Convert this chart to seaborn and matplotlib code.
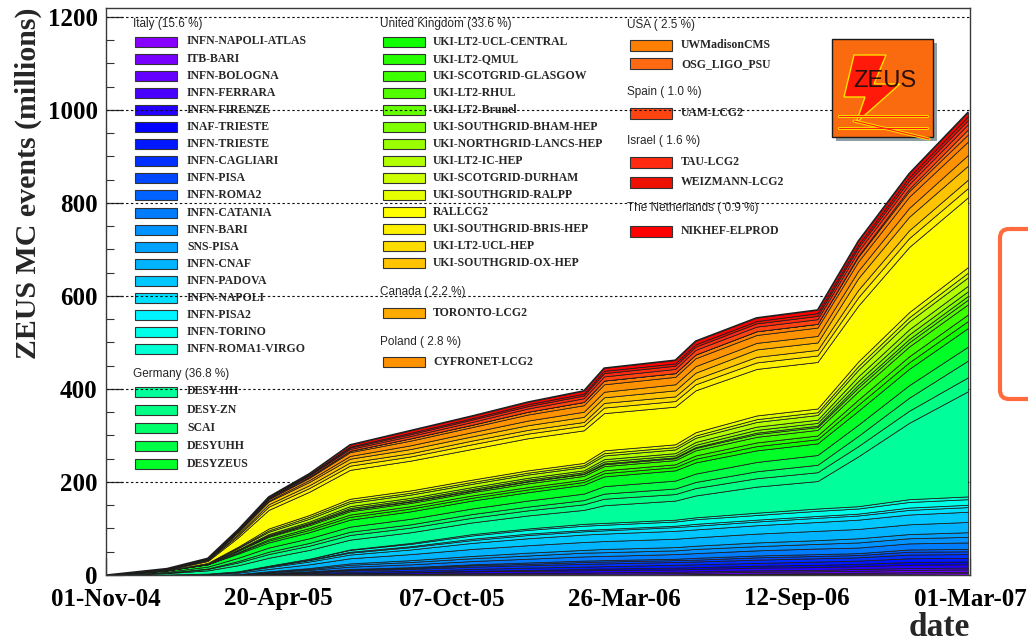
import numpy as np
import matplotlib
matplotlib.use("Agg")
import matplotlib.pyplot as plt
import matplotlib.transforms as mtransforms
from matplotlib.patches import Rectangle, Polygon, FancyBboxPatch
from matplotlib.lines import Line2D
from matplotlib.ticker import MultipleLocator
import seaborn as sns

W, H = 1028, 642

# ---------------------------------------------------------------- data
# sampling dates, in days after 01-Nov-2004
days = [0, 60, 100, 130, 160, 200, 240, 300, 360, 415, 470, 490, 560, 580, 640, 700, 740, 790, 848]

tick_days = [0, 170, 340, 510, 680, 850]
tick_labels = ["01-Nov-04", "20-Apr-05", "07-Oct-05", "26-Mar-06", "12-Sep-06", "01-Mar-07"]
y_ticks = [0, 200, 400, 600, 800, 1000, 1200]

# cumulative ZEUS MC events (millions) per site
italy_sites = ["INFN-NAPOLI-ATLAS", "ITB-BARI", "INFN-BOLOGNA", "INFN-FERRARA", "INFN-FIRENZE",
               "INAF-TRIESTE", "INFN-TRIESTE", "INFN-CAGLIARI", "INFN-PISA", "INFN-ROMA2",
               "INFN-CATANIA", "INFN-BARI", "SNS-PISA", "INFN-CNAF", "INFN-PADOVA",
               "INFN-NAPOLI", "INFN-PISA2", "INFN-TORINO", "INFN-ROMA1-VIRGO"]
italy_values = [
    [0, 0, 0, 0, 0, 0, 0, 0, 0, 0, 0, 0, 0, 1, 2, 2, 3, 3, 4],
    [0, 0, 0, 0, 0, 0, 0, 0, 0, 0, 0, 0, 1, 1, 1, 2, 2, 3, 3],
    [0, 0, 0, 0, 0, 1, 1, 2, 2, 3, 3, 3, 3, 3, 4, 4, 4, 5, 5],
    [0, 0, 0, 0, 0, 0, 1, 1, 2, 2, 2, 3, 3, 3, 3, 3, 4, 4, 4],
    [0, 0, 0, 0, 1, 1, 2, 3, 4, 4, 5, 5, 5, 5, 6, 6, 6, 7, 7],
    [0, 0, 0, 0, 0, 0, 0, 0, 1, 2, 3, 3, 4, 4, 4, 5, 5, 6, 6],
    [0, 0, 0, 0, 1, 2, 3, 3, 4, 5, 5, 5, 6, 6, 6, 7, 7, 8, 8],
    [0, 0, 0, 1, 1, 2, 3, 4, 5, 5, 6, 6, 6, 6, 7, 7, 7, 8, 8],
    [0, 0, 0, 0, 1, 1, 2, 2, 3, 3, 4, 4, 4, 4, 5, 5, 5, 6, 6],
    [0, 0, 0, 0, 0, 1, 1, 2, 2, 3, 3, 3, 3, 4, 4, 4, 4, 5, 5],
    [0, 0, 0, 1, 2, 3, 5, 6, 7, 8, 9, 9, 10, 10, 11, 12, 12, 13, 14],
    [0, 0, 0, 0, 1, 2, 4, 5, 6, 7, 8, 8, 8, 9, 9, 10, 11, 11, 12],
    [0, 0, 0, 0, 1, 2, 3, 4, 5, 6, 6, 7, 7, 7, 8, 8, 9, 9, 10],
    [0, 1, 2, 3, 5, 8, 11, 13, 15, 16, 17, 17, 18, 18, 19, 20, 20, 21, 22],
    [0, 0, 1, 2, 4, 6, 8, 10, 13, 15, 16, 16, 17, 17, 18, 19, 20, 21, 22],
    [0, 0, 0, 1, 2, 3, 4, 5, 6, 7, 7, 7, 8, 8, 8, 9, 9, 10, 10],
    [0, 0, 0, 0, 0, 1, 2, 2, 3, 3, 3, 3, 3, 4, 4, 4, 4, 5, 5],
    [0, 0, 0, 0, 1, 2, 4, 5, 7, 8, 9, 9, 9, 10, 10, 11, 11, 12, 12],
    [0, 0, 0, 0, 0, 0, 1, 2, 3, 3, 4, 4, 4, 4, 5, 5, 5, 6, 6],
]
italy_colors = ["#8800ff", "#7800ff", "#6400ff", "#4800ff", "#2600ff", "#0000ff", "#0018ff",
                "#0030ff", "#0048ff", "#0062ff", "#007cff", "#0092ff", "#00a2ff", "#00b4ff",
                "#00c8ff", "#00e0ff", "#00f4ff", "#00ffe8", "#00ffd2"]

germany_sites = ["DESY-HH", "DESY-ZN", "SCAI", "DESYUHH", "DESYZEUS"]
germany_values = [
    [0, 3, 7, 13, 17, 19, 21, 23, 25, 28, 30, 38, 41, 47, 56, 59, 107, 164, 226],
    [0, 1, 3, 6, 8, 9, 10, 10, 10, 11, 12, 14, 14, 16, 18, 19, 22, 26, 30],
    [0, 0, 1, 3, 5, 6, 7, 7, 8, 8, 9, 11, 12, 13, 15, 16, 22, 28, 36],
    [0, 2, 4, 7, 9, 10, 11, 12, 12, 13, 14, 16, 17, 18, 20, 21, 24, 27, 30],
    [0, 3, 5, 9, 11, 13, 15, 16, 17, 18, 19, 21, 22, 24, 25, 25, 30, 35, 40],
]
germany_colors = ["#00ff9a", "#00ff84", "#00ff68", "#00ff46", "#00ff26"]

uk_sites = ["UKI-LT2-UCL-CENTRAL", "UKI-LT2-QMUL", "UKI-SCOTGRID-GLASGOW", "UKI-LT2-RHUL",
            "UKI-LT2-Brunel", "UKI-SOUTHGRID-BHAM-HEP", "UKI-NORTHGRID-LANCS-HEP",
            "UKI-LT2-IC-HEP", "UKI-SCOTGRID-DURHAM", "UKI-SOUTHGRID-RALPP", "RALLCG2",
            "UKI-SOUTHGRID-BRIS-HEP", "UKI-LT2-UCL-HEP", "UKI-SOUTHGRID-OX-HEP"]
uk_values = [
    [0, 0, 0, 2, 4, 5, 6, 6, 6, 6, 6, 7, 7, 8, 9, 9, 13, 14, 15],
    [0, 0, 0, 1, 3, 4, 5, 5, 5, 5, 5, 6, 6, 7, 8, 8, 11, 13, 14],
    [0, 0, 1, 3, 5, 6, 7, 7, 7, 8, 8, 9, 9, 11, 12, 12, 18, 21, 22],
    [0, 0, 0, 1, 2, 3, 3, 3, 3, 4, 4, 4, 4, 5, 6, 6, 8, 9, 10],
    [0, 0, 0, 0, 0, 0, 1, 1, 1, 1, 1, 2, 2, 2, 3, 3, 6, 7, 8],
    [0, 0, 0, 1, 2, 2, 3, 3, 3, 3, 3, 4, 4, 5, 6, 6, 8, 10, 10],
    [0, 0, 0, 1, 2, 3, 4, 4, 4, 4, 4, 5, 5, 6, 7, 7, 10, 11, 12],
    [0, 0, 1, 3, 5, 6, 7, 7, 7, 7, 7, 8, 8, 9, 10, 10, 14, 17, 18],
    [0, 0, 0, 1, 3, 4, 4, 4, 4, 4, 4, 5, 5, 5, 6, 6, 8, 9, 10],
    [0, 0, 1, 2, 4, 4, 5, 5, 5, 5, 5, 6, 6, 7, 8, 8, 10, 11, 12],
    [0, 1, 4, 20, 40, 50, 62, 64, 66, 69, 70, 80, 81, 90, 100, 100, 120, 140, 150],
    [0, 1, 2, 4, 7, 8, 9, 9, 10, 10, 10, 12, 12, 13, 14, 14, 18, 19, 20],
    [0, 0, 1, 3, 5, 6, 7, 7, 8, 8, 8, 10, 10, 11, 12, 12, 16, 17, 18],
    [0, 1, 1, 4, 6, 7, 8, 9, 9, 10, 11, 12, 13, 14, 16, 16, 25, 29, 30],
]
uk_colors = ["#10ff00", "#28ff00", "#3cff00", "#52ff00", "#66ff00", "#7eff00", "#9aff00",
             "#b2ff00", "#ccff00", "#e6ff00", "#ffff00", "#fff000", "#ffdc00", "#ffc400"]

canada_sites = ["TORONTO-LCG2"]
canada_values = [[0, 0, 0, 1, 2, 4, 6, 8, 9, 10, 11, 12, 13, 14, 14, 14, 16, 19, 23]]
canada_colors = ["#ffaa00"]

poland_sites = ["CYFRONET-LCG2"]
poland_values = [[0, 0, 1, 2, 3, 5, 8, 10, 11, 13, 14, 16, 16, 17, 17, 18, 20, 24, 29]]
poland_colors = ["#ff9200"]

usa_sites = ["UWMadisonCMS", "OSG_LIGO_PSU"]
usa_values = [
    [0, 0, 0, 1, 1, 2, 3, 5, 5, 6, 7, 8, 8, 8, 8, 8, 10, 12, 15],
    [0, 0, 0, 0, 0, 0, 0, 0, 0, 0, 0, 0, 0, 0, 0, 0, 2, 5, 11],
]
usa_colors = ["#ff8000", "#ff6a12"]

spain_sites = ["UAM-LCG2"]
spain_values = [[0, 0, 0, 1, 2, 3, 4, 5, 6, 7, 8, 9, 9, 10, 10, 10, 10, 10, 11]]
spain_colors = ["#ff4412"]

israel_sites = ["TAU-LCG2", "WEIZMANN-LCG2"]
israel_values = [
    [0, 0, 0, 0, 1, 1, 3, 4, 5, 5, 6, 7, 7, 7, 7, 7, 8, 8, 9],
    [0, 0, 0, 0, 0, 1, 2, 3, 3, 4, 4, 5, 5, 5, 5, 6, 6, 7, 8],
]
israel_colors = ["#ff2a10", "#ee1000"]

netherlands_sites = ["NIKHEF-ELPROD"]
netherlands_values = [[0, 1, 1, 1, 1, 2, 4, 5, 5, 5, 6, 6, 7, 7, 7, 7, 8, 8, 9]]
netherlands_colors = ["#ff0000"]

country_names = ["Italy", "Germany", "United Kingdom", "Canada", "Poland",
                 "USA", "Spain", "Israel", "The Netherlands"]
country_shares = ["15.6", "36.8", "33.6", " 2.2", " 2.8", " 2.5", " 1.0", " 1.6", " 0.9"]

groups = [
    (italy_sites, italy_values, italy_colors),
    (germany_sites, germany_values, germany_colors),
    (uk_sites, uk_values, uk_colors),
    (canada_sites, canada_values, canada_colors),
    (poland_sites, poland_values, poland_colors),
    (usa_sites, usa_values, usa_colors),
    (spain_sites, spain_values, spain_colors),
    (israel_sites, israel_values, israel_colors),
    (netherlands_sites, netherlands_values, netherlands_colors),
]

all_values = [np.array(v, dtype=float) for g in groups for v in g[1]]
all_colors = [c for g in groups for c in g[2]]
total = np.sum(all_values, axis=0)

# ---------------------------------------------------------------- style
sns.set_theme(style="ticks")
plt.rcParams["font.family"] = ["Liberation Serif", "DejaVu Serif"]
SANS = ["Liberation Sans", "DejaVu Sans"]
EDGE = "#1c1c1c"

fig = plt.figure(figsize=(W / 100, H / 100), dpi=100)
fig.patch.set_facecolor("white")

AX_L, AX_R, AX_T, AX_B = 106, 970, 8, 575
ax = fig.add_axes([AX_L / W, 1 - AX_B / H, (AX_R - AX_L) / W, (AX_B - AX_T) / H])
ax.set_facecolor("white")

# pixel coordinates with the origin at the top-left corner of the figure
pix = mtransforms.Affine2D().scale(1, -1).translate(0, H)

# stacked cumulative production per site
ax.stackplot(days, *all_values, colors=all_colors, edgecolor=EDGE, linewidth=0.55, zorder=3)
sns.lineplot(x=days, y=total, ax=ax, color=EDGE, linewidth=1.0, zorder=4)

ax.set_xlim(0, 850)
ax.set_ylim(0, 1219)
ax.set_xlabel("")
ax.set_ylabel("")

# dotted horizontal grid drawn over the legend but under the data
for v in y_ticks[1:]:
    ax.axhline(v, color="#111111", linewidth=0.8, linestyle=(0, (2.2, 2.2)), zorder=1.5)

ax.set_xticks(tick_days)
ax.set_xticklabels(tick_labels, fontsize=18, fontweight="bold")
ax.set_yticks(y_ticks)
ax.set_yticklabels([str(v) for v in y_ticks], fontsize=18, fontweight="bold")
ax.yaxis.set_minor_locator(MultipleLocator(50))
ax.tick_params(axis="both", which="major", direction="in", length=12, width=0.9,
               color="#333333", labelcolor="black")
ax.tick_params(axis="x", which="major", pad=9)
ax.tick_params(axis="y", which="major", pad=6)
ax.tick_params(axis="y", which="minor", direction="in", length=6, width=0.8, color="#333333")
ax.tick_params(axis="x", which="minor", bottom=False)
for s in ax.spines.values():
    s.set_color("#3a3a3a")
    s.set_linewidth(1.0)
    s.set_zorder(6)

# axis titles
ax.text(28, 183, "ZEUS MC events (millions)", transform=pix, rotation=90, ha="center",
        va="center", fontsize=21.5, fontweight="bold", clip_on=False)
ax.text(970, 636, "date", transform=pix, ha="right", va="baseline", fontsize=24,
        fontweight="bold", clip_on=False)

# ---------------------------------------------------------------- legend
def header(x, y, text):
    ax.text(x, y, text, transform=pix, fontsize=8.5, family=SANS, ha="left", va="center",
            zorder=1, clip_on=False)


def entry(bx, tx, y, name, color, h=10):
    ax.add_patch(Rectangle((bx, y - h / 2), 42, h, transform=pix, facecolor=color,
                           edgecolor="#333333", linewidth=0.8, zorder=1, clip_on=False))
    ax.text(tx, y, name, transform=pix, fontsize=8.5, fontweight="bold", ha="left",
            va="center", zorder=1, clip_on=False)


def title(i):
    return f"{country_names[i]} ({country_shares[i]} %)"


# column 1: Italy, Germany
header(133, 24, title(0))
for i, (n, c) in enumerate(zip(italy_sites, italy_colors)):
    entry(135, 187, 41.5 + i * 17.1, n, c)
header(133, 374, title(1))
for i, (n, c) in enumerate(zip(germany_sites, germany_colors)):
    entry(135, 187, 391.5 + i * 18.2, n, c)

# column 2: United Kingdom, Canada, Poland
header(380, 24, title(2))
for i, (n, c) in enumerate(zip(uk_sites, uk_colors)):
    entry(383, 433, 42 + i * 17.0, n, c)
header(380, 291.5, title(3))
entry(383, 433, 313, canada_sites[0], canada_colors[0])
header(380, 342.5, title(4))
entry(383, 433, 362, poland_sites[0], poland_colors[0])

# column 3: USA, Spain, Israel, The Netherlands
header(627, 25, title(5))
entry(630, 681, 45.3, usa_sites[0], usa_colors[0], h=11)
entry(630, 681, 63.7, usa_sites[1], usa_colors[1], h=11)
header(627, 91.5, title(6))
entry(630, 681, 113.3, spain_sites[0], spain_colors[0], h=11)
header(627, 141, title(7))
entry(630, 681, 162, israel_sites[0], israel_colors[0], h=11)
entry(630, 681, 182, israel_sites[1], israel_colors[1], h=11)
header(627, 208.3, title(8))
entry(630, 681, 231, netherlands_sites[0], netherlands_colors[0], h=11)

# ---------------------------------------------------------------- ZEUS logo
LX, LY = 832, 39
ax.add_patch(Rectangle((LX + 4, LY + 4), 101, 98, transform=pix, facecolor="#8e9ea4",
                       edgecolor="none", zorder=7, clip_on=False))
ax.add_patch(Rectangle((LX, LY), 101, 98, transform=pix, facecolor="#fa6a0e",
                       edgecolor="#1a1a1a", linewidth=1.0, zorder=7.1, clip_on=False))
bolt = [(22, 16), (54, 16), (42, 45), (68, 45), (24, 84), (33, 58), (12, 58)]
ax.add_patch(Polygon([(LX + x, LY + y) for x, y in bolt], closed=True, transform=pix,
                     facecolor="#ff1a0a", edgecolor="#ffe000", linewidth=1.0, zorder=7.2,
                     clip_on=False))
for (x0, y0, x1, y1) in [(7, 77, 95, 77), (7, 89, 95, 89), (22, 82, 97, 100)]:
    ax.add_line(Line2D([LX + x0, LX + x1], [LY + y0, LY + y1], transform=pix,
                       color="#ffe000", linewidth=2.2, zorder=7.3, clip_on=False))
    ax.add_line(Line2D([LX + x0, LX + x1], [LY + y0, LY + y1], transform=pix,
                       color="#ff1a0a", linewidth=0.8, zorder=7.4, clip_on=False))
ax.text(LX + 53, LY + 42, "ZEUS", transform=pix, ha="center", va="center", fontsize=17,
        family=SANS, color="#2a0f0a", zorder=7.5, clip_on=False)

# rounded frame at the right margin
ax.add_patch(FancyBboxPatch((1000, 229), 90, 170, boxstyle="round,pad=0,rounding_size=9",
                            transform=pix, facecolor="none", edgecolor="#ff6b3d",
                            linewidth=3.0, zorder=8, clip_on=False))

fig.savefig("out.png", dpi=100)
